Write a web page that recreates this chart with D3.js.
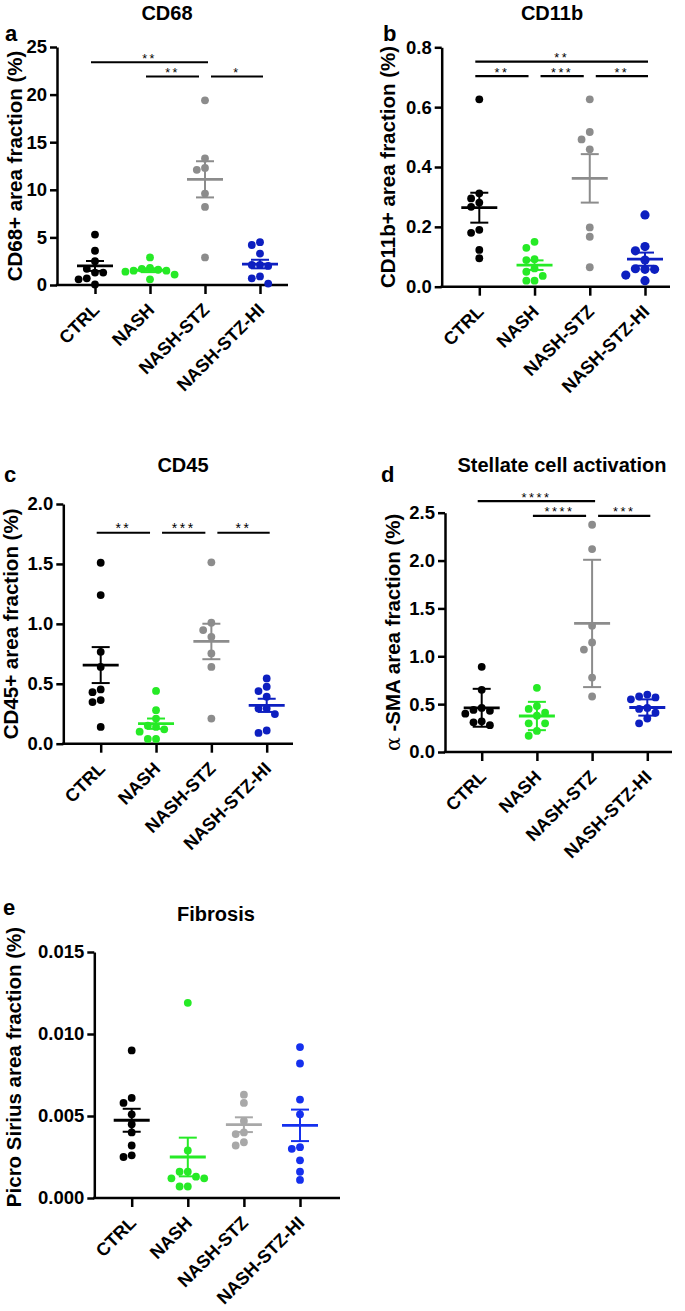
<!DOCTYPE html>
<html>
<head>
<meta charset="utf-8">
<script src="https://cdn.jsdelivr.net/npm/d3@7"></script>
<style>
  body { margin: 0; background: #fff; }
  svg text { font-family: "Liberation Sans", Arial, sans-serif; font-weight: bold; fill: #000; }
</style>
</head>
<body>
<svg width="685" height="1311"></svg>
<script>
let groups = ["CTRL", "NASH", "NASH-STZ", "NASH-STZ-HI"];

// ---- a: CD68 (mean +- SEM)
let cd68Vals = [
  [5.3, 3.6, 2.5, 1.7, 1.3, 1.3, 0.7, 0.6, 0.05],
  [2.9, 1.8, 1.7, 1.6, 1.5, 1.5, 1.4, 1.1, 0.6],
  [19.4, 13.3, 12.3, 12.1, 9.6, 8.2, 2.9],
  [4.5, 4.2, 3.3, 2.1, 2.1, 2.0, 0.9, 0.7, 0.15]
];
let cd68Mean = [2.0, 1.55, 11.1, 2.2];
let cd68Err = [0.52, 0.2, 1.9, 0.45];
let cd68Ticks = [0, 5, 10, 15, 20, 25];
let cd68Sig = [[0, 2, 23.4, "**"], [1, 2, 21.9, "**"], [2, 3, 21.9, "*"]];

// ---- b: CD11b (mean +- SEM)
let cd11bVals = [
  [0.626, 0.312, 0.295, 0.281, 0.267, 0.19, 0.18, 0.123, 0.095],
  [0.15, 0.13, 0.092, 0.089, 0.061, 0.05, 0.036, 0.02, 0.02],
  [0.626, 0.517, 0.492, 0.459, 0.198, 0.167, 0.065],
  [0.24, 0.134, 0.12, 0.089, 0.06, 0.058, 0.058, 0.039, 0.02]
];
let cd11bMean = [0.264, 0.072, 0.362, 0.092];
let cd11bErr = [0.05, 0.016, 0.081, 0.022];
let cd11bTicks = [0, 0.2, 0.4, 0.6, 0.8];
let cd11bSig = [[0, 3, 0.752, "**"], [0, 1, 0.704, "**"], [1, 2, 0.704, "***"], [2, 3, 0.704, "**"]];

// ---- c: CD45 (mean +- SEM)
let cd45Vals = [
  [1.51, 1.24, 0.767, 0.641, 0.453, 0.43, 0.364, 0.347, 0.14],
  [0.44, 0.28, 0.21, 0.15, 0.14, 0.12, 0.1, 0.04, 0.04],
  [1.513, 1.009, 0.948, 0.892, 0.753, 0.641, 0.21],
  [0.545, 0.475, 0.439, 0.392, 0.294, 0.294, 0.247, 0.11, 0.09]
];
let cd45Mean = [0.656, 0.167, 0.853, 0.32];
let cd45Err = [0.15, 0.043, 0.148, 0.055];
let cd45Ticks = [0, 0.5, 1.0, 1.5, 2.0];
let cd45Sig = [[0, 1, 1.76, "**"], [1, 2, 1.76, "***"], [2, 3, 1.76, "**"]];

// ---- d: alpha-SMA (mean +- SD)
let smaVals = [
  [0.89, 0.65, 0.46, 0.44, 0.43, 0.4, 0.32, 0.31, 0.28],
  [0.67, 0.48, 0.45, 0.41, 0.38, 0.3, 0.3, 0.22, 0.17],
  [2.374, 2.12, 1.32, 1.145, 1.07, 0.778, 0.58],
  [0.6, 0.58, 0.57, 0.55, 0.46, 0.45, 0.41, 0.35, 0.3]
];
let smaMean = [0.462, 0.376, 1.343, 0.465];
let smaErr = [0.198, 0.148, 0.665, 0.085];
let smaTicks = [0, 0.5, 1.0, 1.5, 2.0, 2.5];
let smaSig = [[0, 2, 2.62, "****"], [1, 2, 2.467, "****"], [2, 3, 2.467, "***"]];

// ---- e: Picro Sirius (mean +- SEM)
let psVals = [
  [0.009, 0.0061, 0.0058, 0.0051, 0.0045, 0.004, 0.0032, 0.0026, 0.0025],
  [0.0119, 0.0029, 0.0016, 0.0016, 0.0013, 0.0012, 0.0012, 0.0007, 0.0007],
  [0.0063, 0.0058, 0.0047, 0.004, 0.0039, 0.0034, 0.0032],
  [0.0092, 0.0082, 0.006, 0.0051, 0.0031, 0.003, 0.0023, 0.0016, 0.0011]
];
let psMean = [0.00474, 0.0025, 0.00447, 0.00443];
let psErr = [0.0007, 0.00118, 0.00045, 0.00096];
let psTicks = [0, 0.005, 0.010, 0.015];
let psSig = [];

let colorsMain = ["#000000", "#26ea26", "#8c8c8c", "#0d1fc0"];
let colorsFib = ["#000000", "#26ea26", "#a8a8a8", "#1530ee"];

//------------------------------------------------------------
let panels = [
  {letter: "a", title: "CD68", ylab: "CD68+ area fraction (%)", vals: cd68Vals, mean: cd68Mean, err: cd68Err,
   ticks: cd68Ticks, fmt: d3.format("d"), sig: cd68Sig, colors: colorsMain,
   ax: 57, axEnd: 288, cat: [95, 260], yr: [285, 47], ymax: 25,
   titleXY: [167, 20], letterXY: [5, 41], ylabX: 22},
  {letter: "b", title: "CD11b", ylab: "CD11b+ area fraction (%)", vals: cd11bVals, mean: cd11bMean, err: cd11bErr,
   ticks: cd11bTicks, fmt: d3.format(".1f"), sig: cd11bSig, colors: colorsMain, bigHI: true,
   ax: 441.7, axEnd: 670, cat: [479.3, 645], yr: [286.7, 47.3], ymax: 0.8,
   titleXY: [552, 20], letterXY: [383, 41], ylabX: 395},
  {letter: "c", title: "CD45", ylab: "CD45+ area fraction (%)", vals: cd45Vals, mean: cd45Mean, err: cd45Err,
   ticks: cd45Ticks, fmt: d3.format(".1f"), sig: cd45Sig, colors: colorsMain,
   ax: 63.3, axEnd: 293, cat: [100.7, 266.7], yr: [743.7, 504], ymax: 2.0,
   titleXY: [183, 472], letterXY: [4, 482], ylabX: 18},
  {letter: "d", title: "Stellate cell activation", ylab: "SMA", vals: smaVals, mean: smaMean, err: smaErr,
   ticks: smaTicks, fmt: d3.format(".1f"), sig: smaSig, colors: colorsMain,
   ax: 445, axEnd: 672, cat: [481.7, 647.3], yr: [752, 512.7], ymax: 2.5,
   titleXY: [562, 472], letterXY: [381, 482], ylabX: 400},
  {letter: "e", title: "Fibrosis", ylab: "Picro Sirius area fraction  (%)", vals: psVals, mean: psMean, err: psErr,
   ticks: psTicks, fmt: d3.format(".3f"), sig: psSig, colors: colorsFib,
   ax: 94.3, axEnd: 340, cat: [131.7, 300], yr: [1198, 952], ymax: 0.015,
   titleXY: [216, 921], letterXY: [3, 915], ylabX: 21, ylabShift: -8}
];

let svg = d3.select("svg");

// simple swarm: points sorted top-down, pushed sideways when they would overlap
function swarm(vals, y, r, step) {
  let placed = [];
  let pts = vals.map(function(v) { return {v: v, py: y(v)}; }).sort(function(a, b) { return a.py - b.py; });
  pts.forEach(function(p) {
    let offs = [0, -step, step, -2 * step, 2 * step, -3 * step, 3 * step];
    p.dx = offs[offs.length - 1];
    for (let o of offs) {
      let ok = placed.every(function(q) { return Math.hypot(q.dx - o, q.py - p.py) >= 2 * r; });
      if (ok) { p.dx = o; break; }
    }
    placed.push(p);
  });
  return placed;
}

panels.forEach(function(p) {
  let g = svg.append("g");
  let x = d3.scalePoint().domain(groups).range(p.cat);
  let y = d3.scaleLinear().domain([0, p.ymax]).range(p.yr);
  let y0 = y(0);

  // title + panel letter
  g.append("text").attr("x", p.titleXY[0]).attr("y", p.titleXY[1])
    .attr("text-anchor", "middle").style("font-size", "20px").text(p.title);
  g.append("text").attr("x", p.letterXY[0]).attr("y", p.letterXY[1])
    .style("font-size", "22px").text(p.letter);

  // y axis label
  let cy = (p.yr[0] + p.yr[1]) / 2 + (p.ylabShift || 0);
  let lab = g.append("text")
    .attr("transform", "translate(" + p.ylabX + "," + cy + ") rotate(-90)")
    .attr("text-anchor", "middle").style("font-size", "20.5px");
  if (p.letter == "d") {
    lab.append("tspan").style("font-family", "'DejaVu Serif', serif").style("font-weight", "normal").text("\u03b1");
    lab.append("tspan").text(" -SMA area fraction (%)");
  } else {
    lab.text(p.ylab);
  }

  // y axis
  let yAxis = g.append("g").attr("transform", "translate(" + p.ax + ",0)")
    .call(d3.axisLeft(y).tickValues(p.ticks).tickFormat(p.fmt).tickSize(7).tickSizeOuter(0).tickPadding(3));
  yAxis.selectAll("path,line").attr("stroke", "#000").attr("stroke-width", 2.5);
  yAxis.selectAll("text").style("font-size", "18.5px").attr("fill", "#000");

  // x axis
  let xAxis = g.append("g").attr("transform", "translate(0," + y0 + ")")
    .call(d3.axisBottom(x).tickSize(9).tickSizeOuter(0));
  xAxis.select(".domain").remove();
  xAxis.selectAll("line").attr("stroke", "#000").attr("stroke-width", 2.5);
  xAxis.selectAll("text")
    .attr("x", 0).attr("y", 0).attr("dy", 0)
    .attr("transform", "translate(5,26) rotate(-45)")
    .attr("text-anchor", "end").style("font-size", "18px").attr("fill", "#000");
  g.append("line").attr("x1", p.ax - 1.2).attr("x2", p.axEnd).attr("y1", y0).attr("y2", y0)
    .attr("stroke", "#000").attr("stroke-width", 2.5);

  // points
  groups.forEach(function(gr, i) {
    let r = (p.bigHI && i == 3) ? 4.6 : 3.9;
    let pts = swarm(p.vals[i], y, r, 2 * r + 0.4);
    g.append("g").selectAll("circle").data(pts).enter().append("circle")
      .attr("cx", function(d) { return x(gr) + d.dx; })
      .attr("cy", function(d) { return d.py; })
      .attr("r", r)
      .attr("fill", p.colors[i]);
  });

  // mean and error bars
  groups.forEach(function(gr, i) {
    let cx = x(gr), m = p.mean[i], e = p.err[i];
    let eg = g.append("g").attr("stroke", p.colors[i]);
    eg.append("line").attr("x1", cx).attr("x2", cx).attr("y1", y(m - e)).attr("y2", y(m + e)).attr("stroke-width", 2);
    eg.append("line").attr("x1", cx - 9).attr("x2", cx + 9).attr("y1", y(m - e)).attr("y2", y(m - e)).attr("stroke-width", 2);
    eg.append("line").attr("x1", cx - 9).attr("x2", cx + 9).attr("y1", y(m + e)).attr("y2", y(m + e)).attr("stroke-width", 2);
    eg.append("line").attr("x1", cx - 18).attr("x2", cx + 18).attr("y1", y(m)).attr("y2", y(m)).attr("stroke-width", 2.8);
  });

  // significance bars; star size limited by the gap between rows
  let levels = Array.from(new Set(p.sig.map(function(s) { return y(s[2]); }))).sort(d3.ascending);
  let gap = d3.min(d3.pairs(levels), function(q) { return q[1] - q[0]; }) || 30;
  let starSize = Math.min(14, gap / 1.14);
  p.sig.forEach(function(s) {
    let same = p.sig.filter(function(t) { return t !== s && t[2] == s[2]; });
    let sharedL = same.some(function(t) { return t[1] == s[0]; });
    let sharedR = same.some(function(t) { return t[0] == s[1]; });
    let x1 = x(groups[s[0]]) + (sharedL ? 6 : -4);
    let x2 = x(groups[s[1]]) + (sharedR ? -6 : 3);
    let yy = y(s[2]);
    g.append("line").attr("x1", x1).attr("x2", x2).attr("y1", yy).attr("y2", yy)
      .attr("stroke", "#000").attr("stroke-width", 2.2);
    g.append("text").attr("x", (x1 + x2) / 2).attr("y", yy + 0.5)
      .attr("text-anchor", "middle").style("font-size", starSize + "px").style("font-weight", "normal")
      .style("letter-spacing", "2.5px").text(s[3]);
  });
});
</script>
</body>
</html>
